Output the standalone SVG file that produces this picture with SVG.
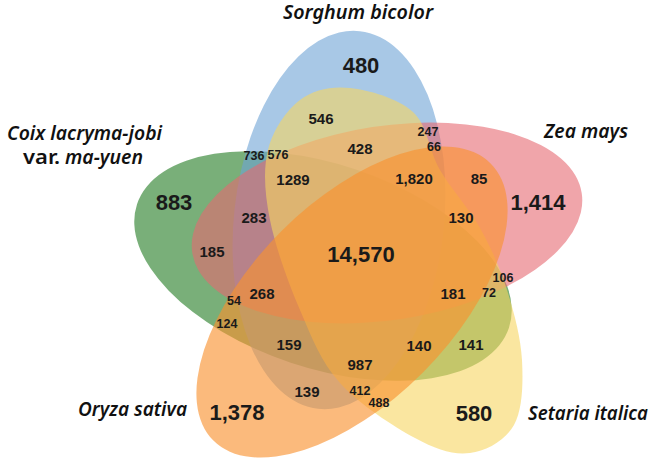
<svg xmlns="http://www.w3.org/2000/svg" width="656" height="459" viewBox="0 0 656 459">
<style>
.set{stroke:none;fill-opacity:.6}
.green{fill:#207920}
.blue{fill:#6ea3d5}
.pink{fill:#e66971}
.yellow{fill:#f7d561}
.orange{fill:#f8922f;fill-opacity:.63}
.lbl{font-family:"Noto Sans","Open Sans","Liberation Sans",sans-serif;font-style:italic;font-weight:600;font-size:19px;fill:#111}
.up{font-style:normal}
.n{font-family:"Liberation Sans",Arial,sans-serif;font-weight:bold;fill:#1a1a1a;text-anchor:middle}
.big{font-size:22px}
.med{font-size:15px}
.sm{font-size:12.5px}
</style>
<rect width="656" height="459" fill="#fff"/>
<g id="coix">
<ellipse class="set green" cx="323" cy="266" rx="196" ry="102" transform="rotate(18.4 323 266)"/>
<text class="lbl" x="7" y="140" textLength="155" lengthAdjust="spacingAndGlyphs">Coix lacryma-jobi</text>
<text class="lbl up" x="23" y="164" textLength="37" lengthAdjust="spacingAndGlyphs">var.</text>
<text class="lbl" x="65" y="164" textLength="78" lengthAdjust="spacingAndGlyphs">ma-yuen</text>
</g>
<g id="sorghum">
<ellipse class="set blue" cx="339" cy="220" rx="190" ry="105" transform="rotate(96.3 339 220)"/>
<text class="lbl" x="283" y="19" textLength="150" lengthAdjust="spacingAndGlyphs">Sorghum bicolor</text>
</g>
<g id="zea">
<ellipse class="set pink" cx="387" cy="223" rx="197" ry="97" transform="rotate(-8.7 387 223)"/>
<text class="lbl" x="544" y="138" textLength="84" lengthAdjust="spacingAndGlyphs">Zea mays</text>
</g>
<g id="setaria">
<path class="set yellow" d="M350 88 C368.8 90 398 98.3 413 112 C428 125.7 428.8 150.7 440 170 C451.2 189.3 468.8 208 480 228 C491.2 248 500 268 507 290 C514 312 520.8 337.5 522 360 C523.2 382.5 522.7 409.5 514 425 C505.3 440.5 486.5 450.8 470 453 C453.5 455.2 436.7 449.7 415 438 C393.3 426.3 359.2 404.3 340 383 C320.8 361.7 311.7 337.2 300 310 C288.3 282.8 275.3 246.7 270 220 C264.7 193.3 263 170 268 150 C273 130 286.3 110.3 300 100 C313.7 89.7 331.2 86 350 88 Z"/>
<text class="lbl" x="528" y="420" textLength="120" lengthAdjust="spacingAndGlyphs">Setaria italica</text>
</g>
<g id="oryza">
<ellipse class="set orange" cx="352" cy="302" rx="196" ry="100" transform="rotate(-45 352 302)"/>
<text class="lbl" x="78" y="416" textLength="109" lengthAdjust="spacingAndGlyphs">Oryza sativa</text>
</g>
<g id="counts">
<text class="n big" x="361" y="73">480</text>
<text class="n big" x="174" y="210">883</text>
<text class="n big" x="538" y="210">1,414</text>
<text class="n big" x="237" y="420">1,378</text>
<text class="n big" x="474" y="421">580</text>
<text class="n big" x="361" y="262">14,570</text>
<text class="n med" x="321" y="124">546</text>
<text class="n med" x="360" y="154">428</text>
<text class="n med" x="293" y="185">1289</text>
<text class="n med" x="414" y="184">1,820</text>
<text class="n med" x="479" y="184">85</text>
<text class="n med" x="254" y="223">283</text>
<text class="n med" x="212" y="257">185</text>
<text class="n med" x="461" y="223">130</text>
<text class="n med" x="262" y="299">268</text>
<text class="n med" x="453" y="299">181</text>
<text class="n med" x="289" y="350">159</text>
<text class="n med" x="419" y="351">140</text>
<text class="n med" x="471" y="350">141</text>
<text class="n med" x="360" y="370">987</text>
<text class="n med" x="307" y="397">139</text>
<text class="n sm" x="254" y="160">736</text>
<text class="n sm" x="278" y="159">576</text>
<text class="n sm" x="428" y="136">247</text>
<text class="n sm" x="434" y="151">66</text>
<text class="n sm" x="234" y="305">54</text>
<text class="n sm" x="227" y="328">124</text>
<text class="n sm" x="503" y="282">106</text>
<text class="n sm" x="489" y="297">72</text>
<text class="n sm" x="360" y="395">412</text>
<text class="n sm" x="379" y="407">488</text>
</g>
</svg>
